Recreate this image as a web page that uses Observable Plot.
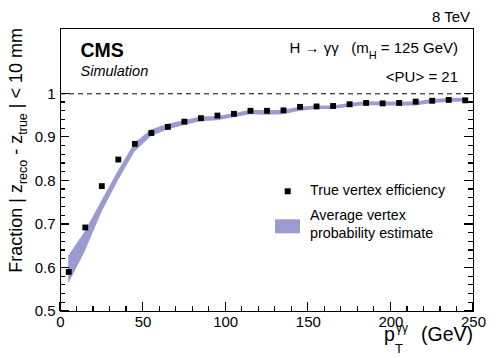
<!DOCTYPE html>
<html>
<head>
<meta charset="utf-8">
<script src="https://cdn.jsdelivr.net/npm/d3@7"></script>
<script src="https://cdn.jsdelivr.net/npm/@observablehq/plot@0.6"></script>
<style>
  html, body { margin: 0; padding: 0; background: #fff; }
  #chart { width: 498px; height: 358px; }
  svg text { white-space: pre; }
</style>
</head>
<body>
<div id="chart"></div>
<script>
// pT bin centres (GeV)
const ptBins = [5, 15, 25, 35, 45, 55, 65, 75, 85, 95, 105, 115, 125, 135, 145, 155, 165, 175, 185, 195, 205, 215, 225, 235, 245];
// True vertex efficiency (points)
const trueEff = [0.591, 0.693, 0.788, 0.849, 0.885, 0.910, 0.924, 0.936, 0.944, 0.950, 0.954, 0.961, 0.961, 0.962, 0.970, 0.971, 0.972, 0.976, 0.979, 0.978, 0.979, 0.982, 0.984, 0.986, 0.985];
// Average vertex probability estimate band (low / high)
const bandLo = [0.563, 0.637, 0.727, 0.800, 0.866, 0.902, 0.917, 0.927, 0.936, 0.938, 0.945, 0.952, 0.951, 0.952, 0.960, 0.964, 0.964, 0.969, 0.973, 0.972, 0.972, 0.972, 0.978, 0.980, 0.981];
const bandHi = [0.627, 0.683, 0.753, 0.822, 0.886, 0.917, 0.930, 0.938, 0.947, 0.948, 0.954, 0.962, 0.961, 0.962, 0.969, 0.972, 0.972, 0.978, 0.982, 0.981, 0.981, 0.981, 0.987, 0.989, 0.990];
// Axis ticks
const xTicks = [0, 50, 100, 150, 200, 250];
const yTicks = [0.5, 0.6, 0.7, 0.8, 0.9, 1.0];
const yTickLabels = ["0.5", "0.6", "0.7", "0.8", "0.9", "1"];

const xMinor = d3.range(0, 251, 10).filter(v => v % 50 !== 0);
const yMinor = d3.range(0.5, 1.0001, 0.02).map(v => +v.toFixed(2)).filter(v => Math.abs(v * 10 - Math.round(v * 10)) > 1e-6);

const data = ptBins.map((x, i) => ({x, eff: trueEff[i], lo: bandLo[i], hi: bandHi[i]}));
const bandColor = "#9b9bd2";
const fmtY = d => yTickLabels[yTicks.findIndex(t => Math.abs(t - d) < 1e-9)];

const W = 498, H = 358, mL = 60, mR = 25, mT = 28, mB = 47;
const MAJ = 9, MIN = 5;

const plot = Plot.plot({
  width: W,
  height: H,
  marginLeft: mL,
  marginRight: mR,
  marginTop: mT,
  marginBottom: mB,
  style: {fontFamily: "'Liberation Sans', Arial, sans-serif", fontSize: "15px", color: "black", background: "white", overflow: "visible"},
  x: {domain: [0, 250]},
  y: {domain: [0.5, 1.15]},
  marks: [
    Plot.areaY(data, {x: "x", y1: "lo", y2: "hi", fill: bandColor, curve: "linear"}),
    Plot.ruleY([1], {stroke: "black", strokeWidth: 1, strokeDasharray: "5,4"}),
    Plot.dot(data, {x: "x", y: "eff", symbol: "square", r: 3.3, fill: "black", stroke: null}),
    Plot.axisX({ticks: xTicks, tickSize: 0, tickPadding: 5, label: null, tickFormat: d => String(d), fontSize: 15}),
    Plot.axisY({ticks: yTicks, tickSize: 0, tickPadding: 5, label: null, tickFormat: fmtY, fontSize: 15}),
    Plot.frame({stroke: "black", strokeWidth: 1})
  ]
});
document.getElementById("chart").appendChild(plot);

const svg = d3.select(plot);

// ----- inward ROOT-style ticks, positioned through Plot's own scales -----
const xs = plot.scale("x"), ys = plot.scale("y");
const bottom = H - mB, left = mL, right = W - mR;
const tk = svg.append("g").attr("stroke", "#000").attr("stroke-width", 1.2).attr("fill", "none")
  .attr("shape-rendering", "crispEdges");
const seg = (x1, y1, x2, y2) => tk.append("line").attr("x1", x1).attr("y1", y1).attr("x2", x2).attr("y2", y2);
xTicks.forEach(v => { const x = xs.apply(v); seg(x, bottom, x, bottom - MAJ); });
xMinor.forEach(v => { const x = xs.apply(v); seg(x, bottom, x, bottom - MIN); });
yTicks.forEach(v => { const y = ys.apply(v); seg(left, y, left + MAJ, y); seg(right, y, right - MAJ, y); });
yMinor.forEach(v => { const y = ys.apply(v); seg(left, y, left + MIN, y); seg(right, y, right - MIN, y); });

// ----- annotations -----
const g = svg.append("g").attr("fill", "black").attr("text-anchor", "start")
  .style("font-family", "'Liberation Sans', Arial, sans-serif");

g.append("text").attr("x", 80.5).attr("y", 56.5).style("font-size", "19.5px").style("font-weight", "bold").text("CMS");
g.append("text").attr("x", 80.5).attr("y", 76).style("font-size", "14.5px").style("font-style", "italic").text("Simulation");
g.append("text").attr("x", 470).attr("y", 21.5).attr("text-anchor", "end").style("font-size", "15px").text("8 TeV");

const t1 = g.append("text").attr("x", 458).attr("y", 52.5).attr("text-anchor", "end").style("font-size", "15px");
t1.append("tspan").text("H \u2192 \u03b3\u03b3   (m");
t1.append("tspan").attr("dy", 6).style("font-size", "11px").text("H");
t1.append("tspan").attr("dy", -6).text(" = 125 GeV)");
g.append("text").attr("x", 458).attr("y", 81.5).attr("text-anchor", "end").style("font-size", "15px").text("<PU> = 21");

// legend
g.append("rect").attr("x", 284.7).attr("y", 188.3).attr("width", 6).attr("height", 6).attr("fill", "black");
g.append("text").attr("x", 310).attr("y", 195).style("font-size", "14.3px").text("True vertex efficiency");
g.append("rect").attr("x", 275).attr("y", 219.3).attr("width", 25).attr("height", 14).attr("fill", bandColor);
g.append("text").attr("x", 310).attr("y", 220).style("font-size", "14.3px").text("Average vertex");
g.append("text").attr("x", 310).attr("y", 238.3).style("font-size", "14.3px").text("probability estimate");

// x axis title
const xt = g.append("text").style("font-size", "19.5px");
xt.append("tspan").attr("x", 384).attr("y", 341).text("p");
xt.append("tspan").attr("x", 396).attr("y", 332).style("font-size", "12px").text("\u03b3\u03b3");
xt.append("tspan").attr("x", 395).attr("y", 353).style("font-size", "13px").text("T");
g.append("text").attr("x", 473).attr("y", 341).attr("text-anchor", "end").style("font-size", "19.5px").text("(GeV)");

// y axis title
const yt = g.append("text").attr("transform", "translate(22,28) rotate(-90)").attr("text-anchor", "end").style("font-size", "18px");
yt.append("tspan").text("Fraction | z");
yt.append("tspan").attr("dy", 5).style("font-size", "12.5px").text("reco");
yt.append("tspan").attr("dy", -5).text(" - z");
yt.append("tspan").attr("dy", 5).style("font-size", "12.5px").text("true");
yt.append("tspan").attr("dy", -5).text(" | < 10 mm");
</script>
</body>
</html>
